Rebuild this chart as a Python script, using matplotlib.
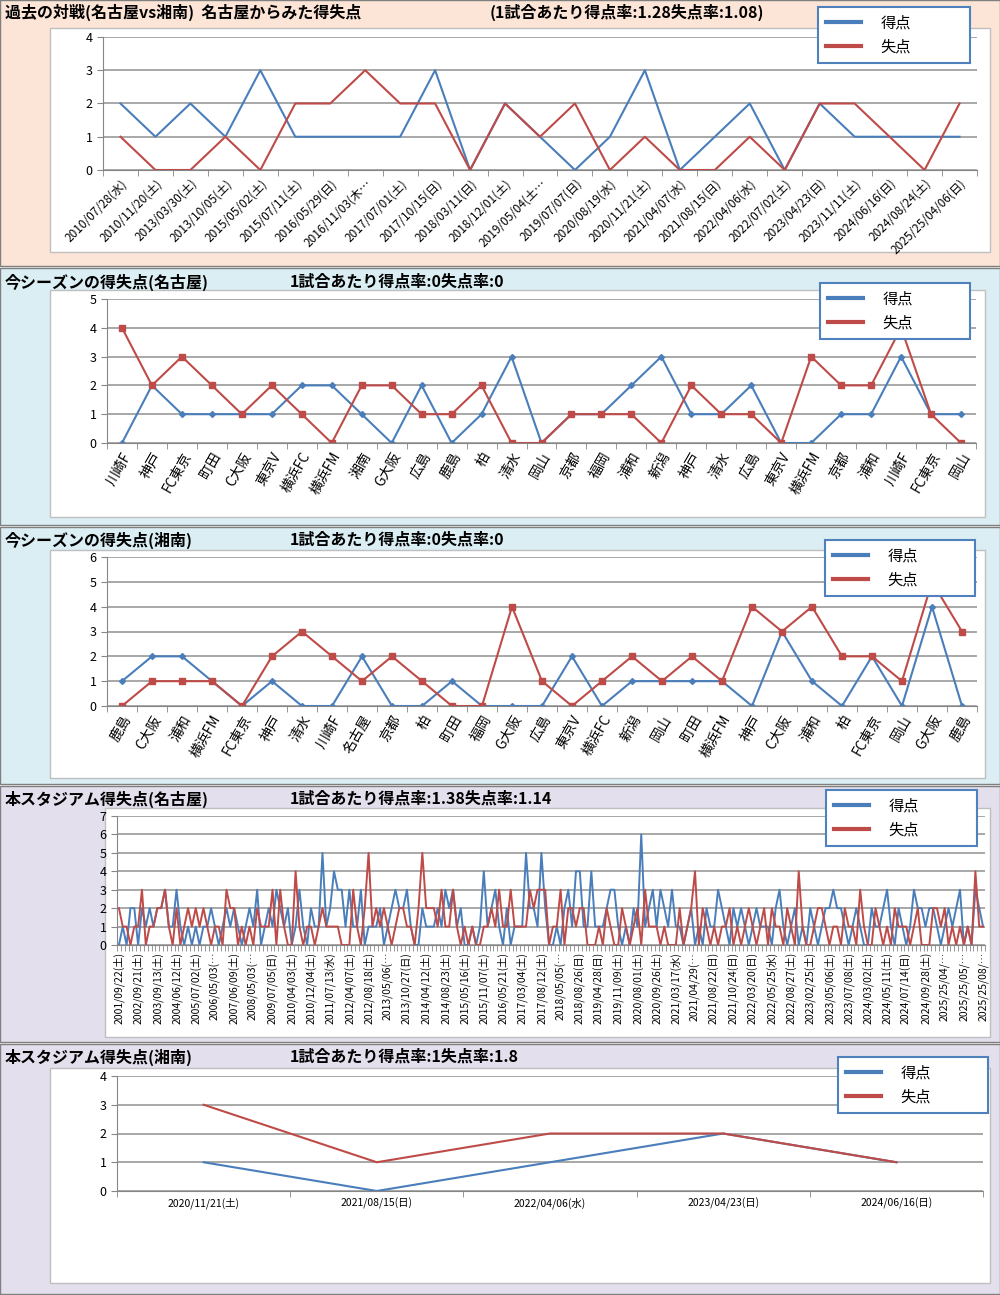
import numpy as np
import matplotlib
matplotlib.use("Agg")
import matplotlib.pyplot as plt
from matplotlib.patches import Rectangle
from matplotlib.lines import Line2D

plt.rcParams['font.family'] = ['Noto Sans CJK JP', 'DejaVu Sans']

# ---- data ----
# 過去の対戦(名古屋vs湘南)
h2h_dates = ["2010/07/28(水)", "2010/11/20(土)", "2013/03/30(土)", "2013/10/05(土)",
             "2015/05/02(土)", "2015/07/11(土)", "2016/05/29(日)", "2016/11/03(木…",
             "2017/07/01(土)", "2017/10/15(日)", "2018/03/11(日)", "2018/12/01(土)",
             "2019/05/04(土…", "2019/07/07(日)", "2020/08/19(水)", "2020/11/21(土)",
             "2021/04/07(水)", "2021/08/15(日)", "2022/04/06(水)", "2022/07/02(土)",
             "2023/04/23(日)", "2023/11/11(土)", "2024/06/16(日)", "2024/08/24(土)",
             "2025/25/04/06(日)"]
h2h_for = [2, 1, 2, 1, 3, 1, 1, 1, 1, 3, 0, 2, 1, 0, 1, 3, 0, 1, 2, 0, 2, 1, 1, 1, 1]
h2h_against = [1, 0, 0, 1, 0, 2, 2, 3, 2, 2, 0, 2, 1, 2, 0, 1, 0, 0, 1, 0, 2, 2, 1, 0, 2]

# 今シーズン(名古屋)
nagoya_opp = ["川崎F", "神戸", "FC東京", "町田", "C大阪", "東京V", "横浜FC", "横浜FM",
              "湘南", "G大阪", "広島", "鹿島", "柏", "清水", "岡山", "京都", "福岡",
              "浦和", "新潟", "神戸", "清水", "広島", "東京V", "横浜FM", "京都", "浦和",
              "川崎F", "FC東京", "岡山"]
nagoya_for = [0, 2, 1, 1, 1, 1, 2, 2, 1, 0, 2, 0, 1, 3, 0, 1, 1, 2, 3, 1, 1, 2, 0, 0, 1, 1, 3, 1, 1]
nagoya_against = [4, 2, 3, 2, 1, 2, 1, 0, 2, 2, 1, 1, 2, 0, 0, 1, 1, 1, 0, 2, 1, 1, 0, 3, 2, 2, 4, 1, 0]

# 今シーズン(湘南)
shonan_opp = ["鹿島", "C大阪", "浦和", "横浜FM", "FC東京", "神戸", "清水", "川崎F", "名古屋",
              "京都", "柏", "町田", "福岡", "G大阪", "広島", "東京V", "横浜FC", "新潟",
              "岡山", "町田", "横浜FM", "神戸", "C大阪", "浦和", "柏", "FC東京", "岡山",
              "G大阪", "鹿島"]
shonan_for = [1, 2, 2, 1, 0, 1, 0, 0, 2, 0, 0, 1, 0, 0, 0, 2, 0, 1, 1, 1, 1, 0, 3, 1, 0, 2, 0, 4, 0]
shonan_against = [0, 1, 1, 1, 0, 2, 3, 2, 1, 2, 1, 0, 0, 4, 1, 0, 1, 2, 1, 2, 1, 4, 3, 4, 2, 2, 1, 5, 3]

# 本スタジアム(名古屋) - 226 matches, every 5th labelled
stad_n_labels = ["2001/09/22(土)", "2002/09/21(土)", "2003/09/13(土)", "2004/06/12(土)",
                 "2005/07/02(土)", "2006/05/03(…", "2007/06/09(土)", "2008/05/03(…",
                 "2009/07/05(日)", "2010/04/03(土)", "2010/12/04(土)", "2011/07/13(水)",
                 "2012/04/07(土)", "2012/08/18(土)", "2013/05/06(…", "2013/10/27(日)",
                 "2014/04/12(土)", "2014/08/23(土)", "2015/05/16(土)", "2015/11/07(土)",
                 "2016/05/21(土)", "2017/03/04(土)", "2017/08/12(土)", "2018/05/05(…",
                 "2018/08/26(日)", "2019/04/28(日)", "2019/11/09(土)", "2020/08/01(土)",
                 "2020/09/26(土)", "2021/03/17(水)", "2021/04/29(…", "2021/08/22(日)",
                 "2021/10/24(日)", "2022/03/20(日)", "2022/05/25(水)", "2022/08/27(土)",
                 "2023/02/25(土)", "2023/05/06(土)", "2023/07/08(土)", "2024/03/02(土)",
                 "2024/05/11(土)", "2024/07/14(日)", "2024/09/28(土)", "2025/25/04/…",
                 "2025/25/05/…", "2025/25/08/…"]
stad_n_for = [0, 1, 0, 2, 2, 0, 2, 1, 2, 1,  2, 2, 3, 1, 1, 3, 1, 0, 1, 0,
              1, 0, 1, 1, 2, 1, 0, 1, 2, 1,  2, 1, 0, 1, 2, 1, 3, 0, 1, 2,
              1, 3, 2, 1, 2, 0, 1, 3, 1, 0,  2, 1, 1, 5, 1, 2, 4, 3, 3, 1,
              3, 1, 1, 3, 0, 1, 1, 1, 2, 0,  1, 2, 3, 2, 2, 3, 1, 0, 0, 2,
              1, 1, 1, 2, 1, 3, 2, 3, 1, 2,  0, 0, 1, 0, 1, 4, 1, 2, 3, 1,
              0, 2, 0, 1, 1, 1, 5, 2, 2, 1,  5, 2, 0, 0, 1, 0, 2, 3, 1, 4,
              4, 1, 1, 4, 1, 1, 1, 2, 3, 3,  1, 0, 1, 0, 2, 1, 6, 1, 2, 3,
              1, 3, 2, 1, 3, 1, 1, 0, 1, 2,  0, 1, 0, 2, 1, 1, 3, 2, 1, 0,
              2, 1, 2, 1, 0, 1, 2, 1, 1, 1,  0, 2, 3, 1, 0, 1, 2, 0, 1, 0,
              2, 1, 0, 1, 2, 2, 3, 2, 2, 1,  0, 1, 2, 1, 0, 0, 2, 1, 1, 2,
              3, 1, 0, 2, 1, 0, 1, 3, 2, 2,  1, 2, 2, 1, 0, 1, 2, 1, 2, 3,
              0, 1, 0, 3, 2, 1]
stad_n_against = [2, 1, 1, 0, 1, 1, 3, 0, 1, 1,  2, 2, 3, 1, 0, 2, 0, 1, 2, 1,
                  2, 1, 2, 1, 0, 1, 1, 0, 3, 2,  2, 0, 1, 0, 1, 0, 2, 1, 1, 1,
                  3, 0, 3, 1, 0, 0, 4, 1, 0, 1,  1, 0, 1, 2, 1, 1, 1, 1, 0, 0,
                  0, 3, 1, 0, 2, 5, 1, 2, 1, 2,  1, 0, 1, 2, 2, 1, 1, 0, 2, 5,
                  2, 2, 2, 1, 3, 1, 1, 3, 1, 0,  1, 0, 1, 0, 0, 1, 1, 2, 1, 3,
                  1, 1, 3, 1, 1, 1, 1, 3, 2, 3,  3, 3, 0, 1, 1, 3, 0, 2, 2, 1,
                  2, 2, 0, 0, 0, 1, 0, 2, 1, 0,  0, 2, 1, 0, 1, 2, 0, 3, 1, 1,
                  1, 0, 1, 0, 0, 0, 2, 0, 1, 2,  4, 0, 2, 1, 0, 1, 0, 1, 1, 2,
                  0, 1, 0, 1, 2, 1, 0, 1, 2, 0,  2, 1, 1, 0, 2, 1, 0, 4, 1, 0,
                  0, 1, 2, 2, 1, 0, 1, 1, 0, 2,  1, 1, 0, 3, 1, 0, 0, 2, 1, 0,
                  1, 0, 2, 1, 1, 1, 0, 1, 2, 0,  0, 0, 2, 2, 1, 2, 0, 1, 0, 1,
                  0, 1, 0, 4, 1, 1]

# 本スタジアム(湘南)
stad_s_dates = ["2020/11/21(土)", "2021/08/15(日)", "2022/04/06(水)", "2023/04/23(日)", "2024/06/16(日)"]
stad_s_for = [1, 0, 1, 2, 1]
stad_s_against = [3, 1, 2, 2, 1]

# ---- style ----
W, H = 1000, 1295
BLUE = '#4a7ebb'
RED = '#be4b48'
GRID = '#9a9a9a'
PEACH = '#fce4d6'
LBLUE = '#daeef3'
LAV = '#e4dfec'

fig = plt.figure(figsize=(W / 100, H / 100), dpi=100)


def frac(x0, y0, x1, y1):
    return [x0 / W, 1 - y1 / H, (x1 - x0) / W, (y1 - y0) / H]


def rect(x0, y0, x1, y1, fc, ec, z):
    r = Rectangle((x0 / W, 1 - y1 / H), (x1 - x0) / W, (y1 - y0) / H,
                  transform=fig.transFigure, facecolor=fc, edgecolor=ec, lw=1, zorder=z)
    fig.patches.append(r)


def title(y, left, right):
    fig.text(5 / W, 1 - y / H, left, fontsize=11.5, fontweight='bold', va='center')
    fig.text(right[0] / W, 1 - y / H, right[1], fontsize=11.5, fontweight='bold', va='center')


def panel(box, gf, ga, labels, step, ymax, rot, fs, leg_box, markers=False, lw=1.5):
    ax = fig.add_axes(frac(*box))
    ax.set_facecolor('none')
    n = len(gf)
    x = np.arange(n)
    if markers:
        ax.plot(x, gf, color=BLUE, lw=lw, marker='D', ms=3)
        ax.plot(x, ga, color=RED, lw=lw, marker='s', ms=4.5)
    else:
        ax.plot(x, gf, color=BLUE, lw=lw)
        ax.plot(x, ga, color=RED, lw=lw)
    ax.set_xlim(-0.5, n - 0.5)
    ax.set_ylim(0, ymax)
    ax.set_yticks(range(ymax + 1))
    ax.yaxis.grid(True, color=GRID, lw=1.2)
    ax.set_axisbelow(True)
    for s in ('top', 'right'):
        ax.spines[s].set_visible(False)
    for s in ('left', 'bottom'):
        ax.spines[s].set_color('#868686')
    ax.set_xticks(x[::step])
    if rot == 0:
        ax.set_xticklabels(labels, fontsize=fs)
    elif rot == 90:
        ax.set_xticklabels(labels, fontsize=fs, rotation=90, va='top')
    else:
        ax.set_xticklabels(labels, fontsize=fs, rotation=rot, ha='right',
                           rotation_mode='anchor')
    ax.set_xticks(np.arange(-0.5, n, 1), minor=True)
    ax.tick_params(axis='x', which='major', length=0, pad=5)
    ax.tick_params(axis='x', which='minor', length=4, color='#868686')
    ax.tick_params(axis='y', length=4, color='#868686', labelsize=9)

    handles = [Line2D([], [], color=BLUE, lw=3), Line2D([], [], color=RED, lw=3)]
    lx0, ly0, lx1, ly1 = leg_box
    leg = ax.legend(handles, ['得点', '失点'], loc='upper left',
                    bbox_to_anchor=(lx0 / W, 1 - ly0 / H, (lx1 - lx0) / W, 0),
                    bbox_transform=fig.transFigure, mode='expand', borderaxespad=0,
                    fancybox=False, edgecolor='#4f81bd', framealpha=1, fontsize=11,
                    handlelength=2.3, handletextpad=1.3, labelspacing=0.45,
                    borderpad=0.5)
    leg.get_frame().set_linewidth(1.5)
    return ax


# backgrounds
rect(0, 0, 1000, 266, PEACH, '#7f7f7f', -3)
rect(0, 268, 1000, 525, LBLUE, '#7f7f7f', -3)
rect(0, 527, 1000, 784, LBLUE, '#7f7f7f', -3)
rect(0, 786, 1000, 1042, LAV, '#7f7f7f', -3)
rect(0, 1044, 1000, 1294, LAV, '#7f7f7f', -3)

# chart boxes
rect(50, 28, 990, 252, 'white', '#bfbfbf', -2)
rect(50, 290, 985, 517, 'white', '#bfbfbf', -2)
rect(50, 550, 985, 778, 'white', '#bfbfbf', -2)
rect(105, 808, 990, 1037, 'white', '#bfbfbf', -2)
rect(50, 1068, 990, 1283, 'white', '#bfbfbf', -2)

title(12, "過去の対戦(名古屋vs湘南)  名古屋からみた得失点", (490, "(1試合あたり得点率:1.28失点率:1.08)"))
title(282, "今シーズンの得失点(名古屋)", (290, "1試合あたり得点率:0失点率:0"))
title(540, "今シーズンの得失点(湘南)", (290, "1試合あたり得点率:0失点率:0"))
title(799, "本スタジアム得失点(名古屋)", (290, "1試合あたり得点率:1.38失点率:1.14"))
title(1057, "本スタジアム得失点(湘南)", (290, "1試合あたり得点率:1失点率:1.8"))

panel((103, 37, 977, 170), h2h_for, h2h_against, h2h_dates, 1, 4, 45, 8.5,
      (818, 7, 970, 57))
panel((107, 299, 976, 443), nagoya_for, nagoya_against, nagoya_opp, 1, 5, 60, 10,
      (820, 283, 970, 333), markers=True)
panel((107, 557, 977, 706), shonan_for, shonan_against, shonan_opp, 1, 6, 60, 10,
      (825, 540, 975, 590), markers=True)
panel((117, 816, 985, 945), stad_n_for, stad_n_against, stad_n_labels, 5, 7, 90, 7.5,
      (826, 790, 977, 840), lw=1.4)
panel((117, 1076, 983, 1191), stad_s_for, stad_s_against, stad_s_dates, 1, 4, 0, 7.5,
      (838, 1057, 988, 1105))

fig.savefig("out.png", dpi=100)
